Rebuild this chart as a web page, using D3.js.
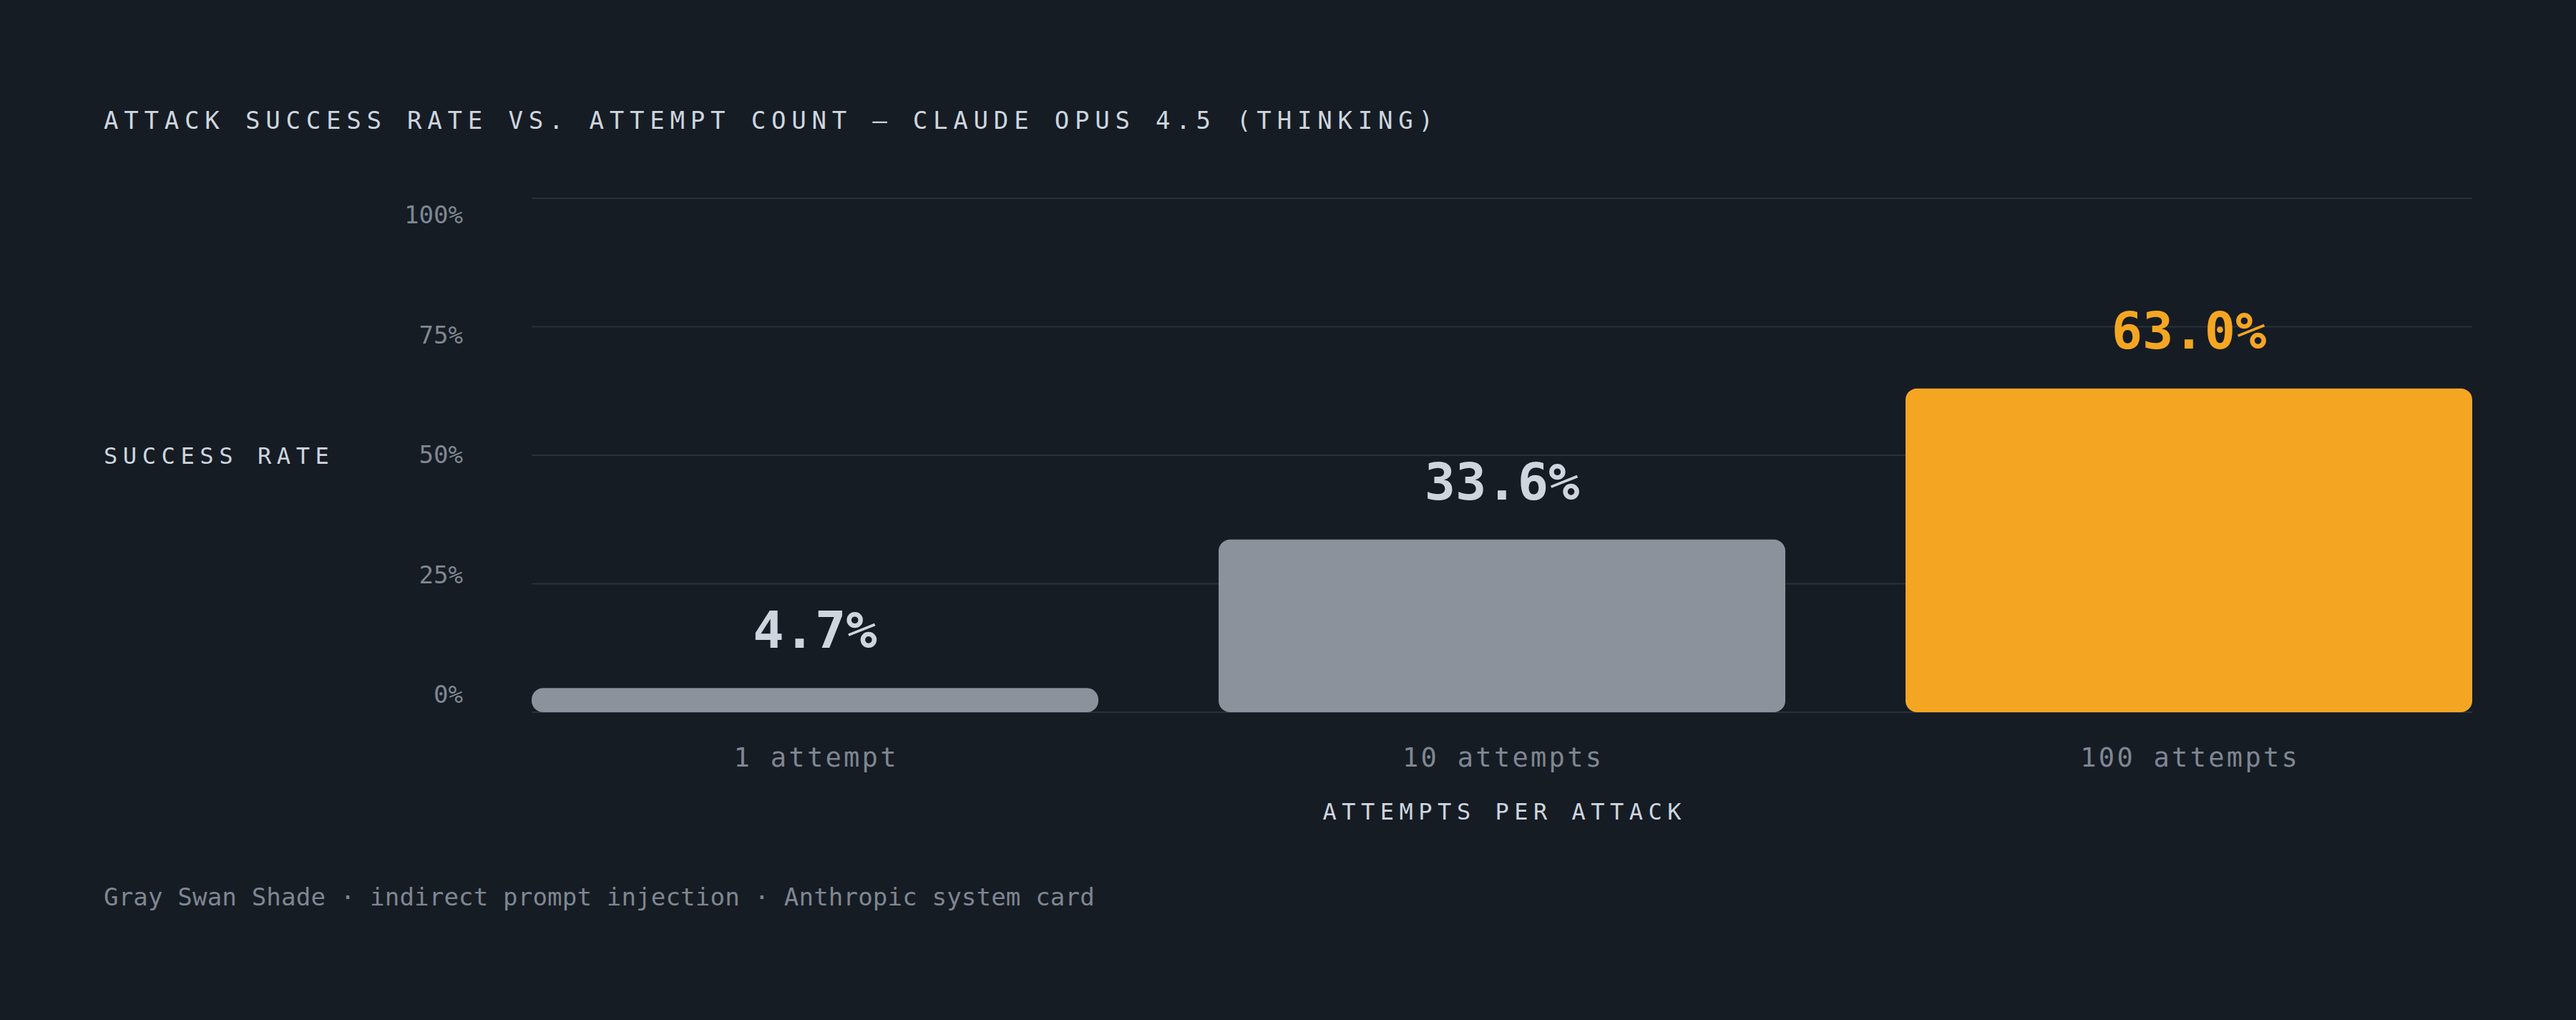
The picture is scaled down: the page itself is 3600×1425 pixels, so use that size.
<!DOCTYPE html>
<html>
<head>
<meta charset="utf-8">
<script src="https://cdn.jsdelivr.net/npm/d3@7"></script>
<style>
 html,body{margin:0;padding:0;background:#161c24;}
 svg{display:block;}
 text{font-family:"DejaVu Sans Mono","Liberation Mono",monospace;}
</style>
</head>
<body>
<svg id="chart" width="3600" height="1425"></svg>
<script>
// chart data
 const categories=["1 attempt","10 attempts","100 attempts"];
 const rates=[4.7,33.6,63.0];
 const highlight=[false,false,true];
 const ticks=[0,25,50,75,100];
 const title="ATTACK SUCCESS RATE VS. ATTEMPT COUNT — CLAUDE OPUS 4.5 (THINKING)";
 const yTitle="SUCCESS RATE";
 const xTitle="ATTEMPTS PER ATTACK";
 const footer="Gray Swan Shade · indirect prompt injection · Anthropic system card";

 const colour={background:"#161c24",grid:"#29313c",bar:"#8b929b",accent:"#f4a623",text:"#cdd5df",muted:"#7f8792"};
 const plot={left:743,right:3455,top:277,bottom:995};

 const svg=d3.select("#chart");
 svg.append("rect").attr("width",3600).attr("height",1425).attr("fill",colour.background);

 const x=d3.scaleBand().domain(categories).range([plot.left,plot.right]).paddingInner(0.175).paddingOuter(0);
 const y=d3.scaleLinear().domain([0,100]).range([plot.bottom,plot.top]);
 // tick labels sit on their own track (not aligned with the grid lines)
 const yLabel=d3.scaleLinear().domain([0,100]).range([970,300]);

 svg.append("text").text(title)
  .attr("x",145).attr("y",180)
  .attr("font-size",34).attr("letter-spacing",7.8)
  .attr("fill",colour.text);

 svg.append("g").selectAll("line").data(ticks).join("line")
  .attr("x1",plot.left).attr("x2",plot.right)
  .attr("y1",d=>y(d)).attr("y2",d=>y(d))
  .attr("stroke",colour.grid).attr("stroke-width",2);

 svg.append("g").selectAll("text").data(ticks).join("text")
  .text(d=>d+"%")
  .attr("x",647).attr("y",d=>yLabel(d))
  .attr("text-anchor","end").attr("dominant-baseline","central")
  .attr("font-size",34).attr("fill",colour.muted);

 svg.append("text").text(yTitle)
  .attr("x",145).attr("y",648)
  .attr("font-size",32).attr("letter-spacing",7.6)
  .attr("fill",colour.text);

 const rows=categories.map((category,i)=>({category,rate:rates[i],highlight:highlight[i]}));

 svg.append("g").selectAll("rect").data(rows).join("rect")
  .attr("x",d=>x(d.category)).attr("width",x.bandwidth())
  .attr("y",d=>y(d.rate)).attr("height",d=>y(0)-y(d.rate))
  .attr("rx",16).attr("ry",16)
  .attr("fill",d=>d.highlight?colour.accent:colour.bar);

 svg.append("g").selectAll("text").data(rows).join("text")
  .text(d=>d.rate.toFixed(1)+"%")
  .attr("x",d=>x(d.category)+x.bandwidth()/2).attr("y",d=>y(d.rate)-56)
  .attr("text-anchor","middle")
  .attr("font-size",72).attr("font-weight","bold")
  .attr("fill",d=>d.highlight?colour.accent:colour.text);

 svg.append("g").selectAll("text").data(categories).join("text")
  .text(d=>d)
  .attr("x",d=>x(d)+x.bandwidth()/2+1.7).attr("y",1071)
  .attr("text-anchor","middle")
  .attr("font-size",37).attr("letter-spacing",3.3)
  .attr("fill",colour.muted);

 svg.append("text").text(xTitle)
  .attr("x",(plot.left+plot.right)/2+3.8).attr("y",1145)
  .attr("text-anchor","middle")
  .attr("font-size",32).attr("letter-spacing",7.5)
  .attr("fill",colour.text);

 svg.append("text").text(footer)
  .attr("x",145).attr("y",1265)
  .attr("font-size",34).attr("letter-spacing",0.2)
  .attr("fill",colour.muted);
</script>
</body>
</html>
